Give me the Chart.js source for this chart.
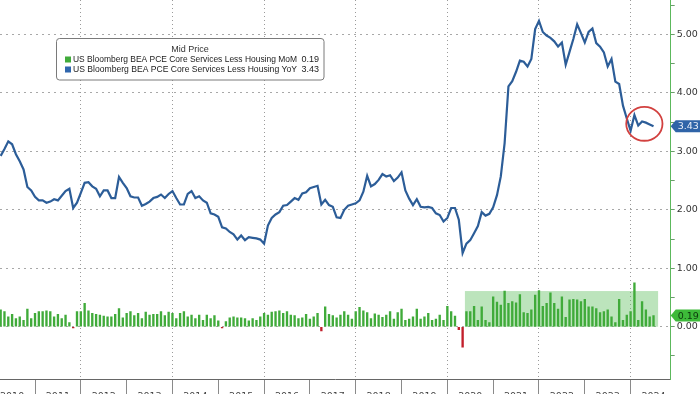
<!DOCTYPE html>
<html>
<head>
<meta charset="utf-8">
<script src="https://cdn.jsdelivr.net/npm/chart.js@4.4.1/dist/chart.umd.min.js"></script>
<style>
  html, body { margin: 0; padding: 0; background: #fff; }
  canvas { display: block; }
</style>
</head>
<body>
<canvas id="chart" width="700" height="394"></canvas>
<script>
'use strict';
// months are counted from Jan 2010 (0); first observation is Apr 2010
var firstMonth = 3;
var years = ['2010', '2011', '2012', '2013', '2014', '2015', '2016', '2017',
  '2018', '2019', '2020', '2021', '2022', '2023', '2024'];
var seriesNames = ['US Bloomberg BEA PCE Core Services Less Housing MoM',
  'US Bloomberg BEA PCE Core Services Less Housing YoY'];

var yoy = [
  2.92, 3.04, 3.17, 3.12, 2.95, 2.83, 2.69, 2.39, 2.33, 2.22, 2.16, 2.16,
  2.12, 2.14, 2.18, 2.16, 2.24, 2.32, 2.36, 2.03, 2.12, 2.29, 2.46, 2.47,
  2.40, 2.36, 2.23, 2.33, 2.33, 2.20, 2.20, 2.56, 2.46, 2.37, 2.23, 2.21,
  2.21, 2.07, 2.10, 2.14, 2.20, 2.22, 2.26, 2.20, 2.27, 2.32, 2.20, 2.09,
  2.09, 2.27, 2.32, 2.20, 2.23, 2.16, 2.12, 1.94, 1.92, 1.88, 1.70, 1.68,
  1.62, 1.58, 1.49, 1.56, 1.48, 1.53, 1.52, 1.51, 1.49, 1.42, 1.73, 1.86,
  1.92, 1.96, 2.07, 2.08, 2.14, 2.20, 2.17, 2.28, 2.30, 2.37, 2.39, 2.41,
  2.09, 2.17, 2.08, 2.05, 1.87, 1.86, 2.00, 2.07,
  2.09, 2.11, 2.16, 2.31, 2.58, 2.40, 2.44, 2.51, 2.61, 2.57, 2.59, 2.49,
  2.55, 2.64, 2.33, 2.19, 2.08, 2.18, 2.05, 2.04, 2.05, 2.03, 1.94, 1.91,
  1.80, 1.86, 2.03, 2.03, 1.83, 1.26, 1.42, 1.48, 1.60, 1.72, 1.96, 1.90,
  1.93, 2.04, 2.25, 2.57, 3.14, 4.11, 4.20, 4.36, 4.55, 4.53, 4.45, 4.58,
  5.09, 5.23, 5.04, 4.98, 4.94, 4.88, 4.79, 4.86, 4.48, 4.70, 4.92, 5.17,
  5.02, 4.86, 5.04, 5.10, 4.85, 4.79, 4.69, 4.45, 4.58, 4.19, 4.15, 3.78,
  3.56, 3.35, 3.62, 3.44, 3.51, 3.49, 3.46, 3.43
];

var mom = [
  0.29, 0.26, 0.17, 0.21, 0.14, 0.17, 0.11, 0.30, 0.14, 0.23, 0.26, 0.26,
  0.27, 0.26, 0.17, 0.21, 0.14, 0.20, 0.07, -0.02, 0.26, 0.26, 0.40, 0.27,
  0.23, 0.21, 0.20, 0.18, 0.17, 0.17, 0.21, 0.31, 0.15, 0.23, 0.26, 0.19,
  0.23, 0.14, 0.25, 0.20, 0.21, 0.21, 0.26, 0.19, 0.25, 0.23,
  0.14, 0.23, 0.26, 0.17, 0.20, 0.14, 0.20, 0.11, 0.20, 0.14, 0.19, 0.10,
  -0.02, 0.09, 0.15, 0.17, 0.15, 0.15, 0.14, 0.10, 0.14, 0.11, 0.17, 0.23,
  0.20, 0.25, 0.26, 0.27, 0.23, 0.26, 0.20, 0.19, 0.14, 0.15, 0.21, 0.13,
  0.17, 0.23, -0.07, 0.34, 0.21, 0.19, 0.15, 0.20, 0.26, 0.20,
  0.13, 0.26, 0.33, 0.27, 0.24, 0.14, 0.22, 0.20, 0.16, 0.20,
  0.26, 0.13, 0.24, 0.30, 0.11, 0.13, 0.17, 0.30, 0.13, 0.17,
  0.23, 0.11, 0.13, 0.20, 0.11, 0.35, 0.26, 0.18, -0.05, -0.35,
  0.26, 0.26, 0.35, 0.11, 0.34, 0.11, 0.07, 0.51, 0.42, 0.37,
  0.61, 0.40, 0.43, 0.41, 0.55, 0.24, 0.23, 0.29, 0.54, 0.62,
  0.35, 0.40, 0.58, 0.40, 0.30, 0.51, 0.16, 0.46, 0.47, 0.46,
  0.43, 0.47, 0.34, 0.34, 0.31, 0.24, 0.26, 0.29, 0.17, 0.07,
  0.47, 0.11, 0.20, 0.26, 0.75, 0.11, 0.43, 0.29, 0.17, 0.19
];

// highlighted post-covid MoM range and the circled recent YoY readings
var shade = { from: 124.6, to: 175.2, top: 0.61 };
var circled = { x: 171.6, y: 3.47, rx: 4.75, ry: 0.29 };

var BLUE = '#2c5d98';
var GREEN = '#40ab3a';
var RED = '#c21f2b';

function toPoints(values) {
  var pts = [];
  for (var i = 0; i < values.length; i++) {
    pts.push({ x: firstMonth + i, y: values[i] });
  }
  return pts;
}

function isWhole(v) {
  return Math.abs(v - Math.round(v)) < 1e-6;
}

function noPadding(scale) {
  scale.paddingLeft = 0;
  scale.paddingRight = 0;
  scale.paddingTop = 0;
  scale.paddingBottom = 0;
}

function drawTag(c, yPix, text, fill, textColor, left) {
  c.beginPath();
  c.moveTo(left - 2, yPix);
  c.lineTo(left + 3, yPix - 6);
  c.lineTo(700, yPix - 6);
  c.lineTo(700, yPix + 6);
  c.lineTo(left + 3, yPix + 6);
  c.closePath();
  c.fillStyle = fill;
  c.fill();
  c.fillStyle = textColor;
  c.font = '9.5px "DejaVu Sans", sans-serif';
  c.textAlign = 'left';
  c.textBaseline = 'middle';
  c.fillText(text, left + 5, yPix + 0.5);
}

var decorations = {
  id: 'decorations',
  beforeDatasetsDraw: function(chart) {
    var xs = chart.scales.x, ys = chart.scales.y, c = chart.ctx;
    var l = xs.getPixelForValue(shade.from), r = xs.getPixelForValue(shade.to);
    var t = ys.getPixelForValue(shade.top), b = ys.getPixelForValue(0);
    c.save();
    c.fillStyle = 'rgba(96, 190, 96, 0.42)';
    c.fillRect(l, t, r - l, b - t);
    c.restore();
  },
  afterDraw: function(chart) {
    var xs = chart.scales.x, ys = chart.scales.y, c = chart.ctx;
    c.save();

    // red ring round the latest readings
    var cx = xs.getPixelForValue(circled.x), cy = ys.getPixelForValue(circled.y);
    var rx = xs.getPixelForValue(circled.x + circled.rx) - cx;
    var ry = cy - ys.getPixelForValue(circled.y + circled.ry);
    c.beginPath();
    c.ellipse(cx, cy, rx, ry, 0, 0, Math.PI * 2);
    c.strokeStyle = '#d2413f';
    c.lineWidth = 1.8;
    c.stroke();

    // legend box
    var bx = 56.5, by = 38.5, bw = 267.5, bh = 41.5;
    c.beginPath();
    c.roundRect(bx, by, bw, bh, 3);
    c.fillStyle = '#fff';
    c.fill();
    c.strokeStyle = '#7a7a7a';
    c.lineWidth = 1;
    c.stroke();

    c.fillStyle = '#333';
    c.font = '9px "Liberation Sans", Arial, sans-serif';
    c.textBaseline = 'middle';
    c.textAlign = 'center';
    c.fillText('Mid Price', 190, 50);

    var rows = [
      { name: seriesNames[0], color: GREEN, last: mom[mom.length - 1], y: 59.5 },
      { name: seriesNames[1], color: '#2f66ad', last: yoy[yoy.length - 1], y: 69.5 }
    ];
    rows.forEach(function(row) {
      c.fillStyle = row.color;
      c.fillRect(65, row.y - 3, 6, 6);
      c.fillStyle = '#222';
      c.textAlign = 'left';
      c.fillText(row.name, 73, row.y, 224);
      c.textAlign = 'right';
      c.fillText(row.last.toFixed(2), 319, row.y);
    });

    // last value tags on the axis
    var axisX = chart.chartArea.right;
    drawTag(c, ys.getPixelForValue(yoy[yoy.length - 1]), yoy[yoy.length - 1].toFixed(2),
      '#2f64a8', '#e8eef8', axisX + 2);
    drawTag(c, ys.getPixelForValue(mom[mom.length - 1]), mom[mom.length - 1].toFixed(2),
      '#3dba39', '#0d3a0d', axisX + 2);
    c.restore();
  }
};

var ctx = document.getElementById('chart');
new Chart(ctx, {
  type: 'bar',
  data: {
    datasets: [{
      type: 'line',
      label: seriesNames[1],
      data: toPoints(yoy),
      borderColor: BLUE,
      borderWidth: 2.2,
      pointRadius: 0,
      tension: 0,
      order: 0
    }, {
      type: 'bar',
      label: seriesNames[0],
      data: toPoints(mom),
      backgroundColor: function(c) {
        return c.raw && c.raw.y < 0 ? RED : GREEN;
      },
      barThickness: 1.7,
      order: 1
    }]
  },
  options: {
    responsive: false,
    animation: false,
    layout: { padding: 0 },
    plugins: {
      legend: { display: false },
      tooltip: { enabled: false }
    },
    scales: {
      x: {
        type: 'linear',
        min: 2.83,
        max: 178.5,
        offset: false,
        afterBuildTicks: function(scale) {
          scale.ticks = years.map(function(y, i) { return { value: i * 12 }; });
        },
        afterFit: function(scale) {
          scale.height = 15;
          noPadding(scale);
        },
        grid: {
          offset: false,
          color: function(c) {
            return c.tick && c.tick.value % 24 === 0 ? '#9a9a9a' : 'rgba(0,0,0,0)';
          },
          tickColor: '#8a8a8a',
          tickLength: 15,
          tickBorderDash: []
        },
        border: { color: '#666', dash: [1, 3] },
        ticks: {
          autoSkip: false,
          maxRotation: 0,
          labelOffset: 22.9,
          padding: -3,
          color: '#444',
          font: { family: '"DejaVu Sans", sans-serif', size: 9.5 },
          callback: function(v) { return years[Math.round(v / 12)]; }
        }
      },
      y: {
        position: 'right',
        min: -0.894,
        max: 5.587,
        afterFit: function(scale) {
          scale.width = 29.3;
          noPadding(scale);
        },
        grid: {
          color: function(c) {
            return c.tick && isWhole(c.tick.value) ? '#a8a8a8' : 'rgba(0,0,0,0)';
          },
          tickColor: '#6a9e6a',
          tickLength: 4,
          tickBorderDash: []
        },
        border: { color: '#5cb85c', dash: [2, 4] },
        ticks: {
          stepSize: 0.5,
          includeBounds: false,
          autoSkip: false,
          padding: 2,
          color: '#333',
          font: { family: '"DejaVu Sans", sans-serif', size: 9.5 },
          callback: function(v) { return isWhole(v) ? v.toFixed(2) : ''; }
        }
      }
    }
  },
  plugins: [decorations]
});
</script>
</body>
</html>
